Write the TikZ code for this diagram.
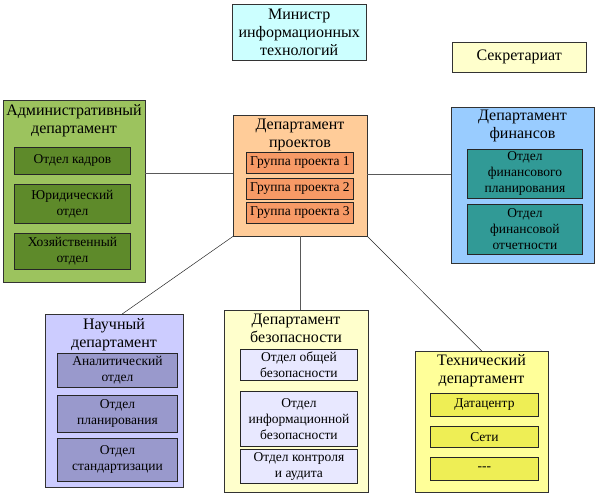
\documentclass[tikz,border=0pt]{standalone}
\usepackage{fontspec}
\setmainfont{Liberation Serif}
\usetikzlibrary{positioning}

\definecolor{cyanbox}{HTML}{CCFFFF}
\definecolor{creambox}{HTML}{FFFFCC}
\definecolor{peach}{HTML}{FFCC99}
\definecolor{coral}{HTML}{F79A66}
\definecolor{leaf}{HTML}{9CC35E}
\definecolor{olive}{HTML}{5E8A2A}
\definecolor{sky}{HTML}{99CCFF}
\definecolor{teal}{HTML}{319A96}
\definecolor{lilac}{HTML}{CCCCFF}
\definecolor{violet}{HTML}{9999CC}
\definecolor{palelilac}{HTML}{E8E8FF}
\definecolor{lemon}{HTML}{FFFF99}
\definecolor{mustard}{HTML}{EEEE55}

\begin{document}
\begin{tikzpicture}[x=1pt, y=-1pt, font=\rmfamily\fontsize{16}{18}\selectfont]
                \tikzstyle{dept} = [draw=black!80, anchor=north west, inner sep=0pt]
                \tikzstyle{unit} = [draw=black!85, line width=0.9pt, anchor=north west, inner sep=0pt, align=center, text=black, font=\rmfamily\fontsize{13.5}{16}\selectfont]
                \tikzstyle{title} = [anchor=north, align=center, inner sep=0pt, text=black]
                \tikzstyle{link} = [draw=black!65, line width=0.7pt]
                \useasboundingbox (0,0) rectangle (600,498);

                % Top boxes
                \node[dept, fill=cyanbox, minimum width=134, minimum height=56, align=center] (min) at (232,4) {Министр\\информационных\\технологий};
                \node[dept, fill=creambox, minimum width=134, minimum height=30] (secr) at (452,42) {Секретариат};

                % Project department (centre)
                \node[dept, fill=peach, minimum width=134, minimum height=121] (proj) at (233,115) {};
                \node[title] (proj-t) at (300,119) {Департамент\\проектов};
                \node[unit, fill=coral, minimum width=107, minimum height=21] (proj1) at (246,152) {Группа проекта 1};
                \node[unit, fill=coral, minimum width=107, minimum height=21] (proj2) at (246,178) {Группа проекта 2};
                \node[unit, fill=coral, minimum width=107, minimum height=21] (proj3) at (246,202) {Группа проекта 3};

                % Administrative department (left)
                \node[dept, fill=leaf, minimum width=142, minimum height=182] (adm) at (3,100) {};
                \node[title] (adm-t) at (74,104) {Административный\\департамент};
                \node[unit, fill=olive, minimum width=116, minimum height=27] (adm1) at (14,147) {Отдел кадров};
                \node[unit, fill=olive, minimum width=116, minimum height=39] (adm2) at (14,184) {Юридический\\отдел};
                \node[unit, fill=olive, minimum width=116, minimum height=36] (adm3) at (14,233) {Хозяйственный\\отдел};

                % Finance department (right)
                \node[dept, fill=sky, minimum width=143, minimum height=156] (fin) at (451,107) {};
                \node[title] (fin-t) at (522.5,110) {Департамент\\финансов};
                \node[unit, fill=teal, minimum width=115, minimum height=49] (fin1) at (467,149) {Отдел\\финансового\\планирования};
                \node[unit, fill=teal, minimum width=115, minimum height=50] (fin2) at (467,204) {Отдел\\финансовой\\отчетности};

                % Science department
                \node[dept, fill=lilac, minimum width=138, minimum height=173] (sci) at (45,314) {};
                \node[title] (sci-t) at (114,318) {Научный\\департамент};
                \node[unit, fill=violet, minimum width=120, minimum height=34] (sci1) at (57,353) {Аналитический\\отдел};
                \node[unit, fill=violet, minimum width=120, minimum height=37] (sci2) at (57,395) {Отдел\\планирования};
                \node[unit, fill=violet, minimum width=120, minimum height=43] (sci3) at (57,438) {Отдел\\стандартизации};

                % Security department
                \node[dept, fill=creambox, minimum width=144, minimum height=182] (bez) at (224,310) {};
                \node[title] (bez-t) at (296,314) {Департамент\\безопасности};
                \node[unit, fill=palelilac, minimum width=117, minimum height=31] (bez1) at (240,349) {Отдел общей\\безопасности};
                \node[unit, fill=palelilac, minimum width=117, minimum height=55] (bez2) at (240,391) {Отдел\\информационной\\безопасности};
                \node[unit, fill=palelilac, minimum width=117, minimum height=34] (bez3) at (240,449) {Отдел контроля\\и аудита};

                % Technical department
                \node[dept, fill=lemon, minimum width=133, minimum height=141] (tech) at (415,351) {};
                \node[title] (tech-t) at (481.5,354) {Технический\\департамент};
                \node[unit, fill=mustard, minimum width=108, minimum height=23] (tech1) at (430,393) {Датацентр};
                \node[unit, fill=mustard, minimum width=108, minimum height=21] (tech2) at (430,426) {Сети};
                \node[unit, fill=mustard, minimum width=108, minimum height=23] (tech3) at (430,457) {{-}{-}{-}};

                % Links
                \draw[link] ([yshift=2pt]proj.west) -- ([yshift=2pt]proj.west -| adm.east);
                \draw[link] ([yshift=1.5pt]proj.east) -- ([yshift=1.5pt]proj.east -| fin.west);
                \draw[link] (proj.south) -- (proj.south |- bez.north);
                \draw[link, draw=black!85, line width=0.5pt] (proj.south west) -- ([xshift=8pt]sci.north);
                \draw[link, draw=black!85, line width=0.5pt] (proj.south east) -- (tech.north);
            \end{tikzpicture}
\end{document}
